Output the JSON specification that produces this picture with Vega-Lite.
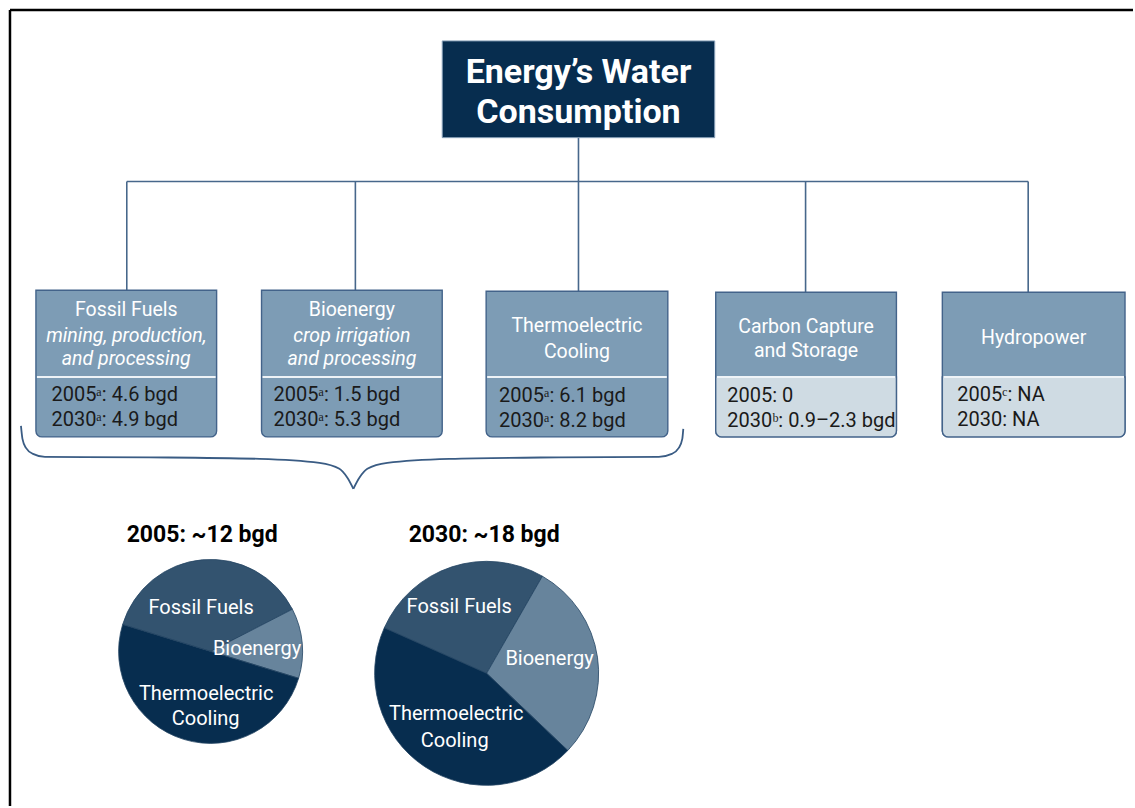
{
  "$schema": "https://vega.github.io/schema/vega-lite/v6.json",
  "width": 1135,
  "height": 808,
  "autosize": {"type": "fit", "contains": "padding"},
  "padding": 0,
  "background": "white",
  "config": {"view": {"stroke": null}, "font": "Roboto"},
  "datasets": {
    "frame": [
      {"x": 10, "y": 10, "x2": 1135, "y2": 10},
      {"x": 10, "y": 10, "x2": 10, "y2": 808}
    ],
    "connectors": [
      {"x": 579.5, "y": 138, "x2": 579.5, "y2": 182},
      {"x": 127, "y": 182, "x2": 1030, "y2": 182},
      {"x": 127, "y": 182, "x2": 127, "y2": 291},
      {"x": 356, "y": 182, "x2": 356, "y2": 291},
      {"x": 579.5, "y": 182, "x2": 579.5, "y2": 292},
      {"x": 807, "y": 182, "x2": 807, "y2": 293},
      {"x": 1030, "y": 182, "x2": 1030, "y2": 293}
    ],
    "titlebox": [{"x": 443, "y": 41, "x2": 716, "y2": 138}],
    "boxes": [
      {"name": "Fossil Fuels", "x": 36, "x2": 217, "y": 291, "y2": 438},
      {"name": "Bioenergy", "x": 262, "x2": 443, "y": 291, "y2": 438},
      {"name": "Thermoelectric Cooling", "x": 487, "x2": 669, "y": 292, "y2": 438},
      {"name": "Carbon Capture and Storage", "x": 717, "x2": 898, "y": 293, "y2": 438},
      {"name": "Hydropower", "x": 944, "x2": 1127, "y": 293, "y2": 438}
    ],
    "lowerlight": [
      {"name": "Carbon Capture and Storage", "x": 717, "x2": 898, "y": 378, "y2": 438},
      {"name": "Hydropower", "x": 944, "x2": 1127, "y": 378, "y2": 438}
    ],
    "dividers": [
      {"x": 37, "x2": 216, "y": 378, "y2": 378},
      {"x": 263, "x2": 442, "y": 378, "y2": 378},
      {"x": 488, "x2": 668, "y": 378, "y2": 378},
      {"x": 718, "x2": 897, "y": 378, "y2": 378},
      {"x": 945, "x2": 1126, "y": 378, "y2": 378}
    ],
    "brace": [
      {"side": "left", "x": 21, "y": 427},
      {"side": "left", "x": 22.5, "y": 440},
      {"side": "left", "x": 26, "y": 449},
      {"side": "left", "x": 33, "y": 455},
      {"side": "left", "x": 45, "y": 458},
      {"side": "left", "x": 150, "y": 458.5},
      {"side": "left", "x": 260, "y": 460},
      {"side": "left", "x": 320, "y": 464},
      {"side": "left", "x": 340, "y": 470},
      {"side": "left", "x": 348, "y": 479},
      {"side": "left", "x": 354, "y": 490},
      {"side": "right", "x": 354, "y": 490},
      {"side": "right", "x": 360, "y": 479},
      {"side": "right", "x": 368, "y": 470},
      {"side": "right", "x": 388, "y": 464},
      {"side": "right", "x": 450, "y": 460},
      {"side": "right", "x": 560, "y": 458.5},
      {"side": "right", "x": 660, "y": 458},
      {"side": "right", "x": 673, "y": 455},
      {"side": "right", "x": 680, "y": 449},
      {"side": "right", "x": 683.5, "y": 440},
      {"side": "right", "x": 684.5, "y": 430}
    ],
    "pies": [
      {"pie": "2005", "source": "Fossil Fuels", "order": 1, "value": 4.6, "x": 211, "y": 653},
      {"pie": "2005", "source": "Bioenergy", "order": 2, "value": 1.5, "x": 211, "y": 653},
      {"pie": "2005", "source": "Thermoelectric Cooling", "order": 3, "value": 6.1, "x": 211, "y": 653},
      {"pie": "2030", "source": "Fossil Fuels", "order": 1, "value": 4.9, "x": 487.5, "y": 675},
      {"pie": "2030", "source": "Bioenergy", "order": 2, "value": 5.3, "x": 487.5, "y": 675},
      {"pie": "2030", "source": "Thermoelectric Cooling", "order": 3, "value": 8.2, "x": 487.5, "y": 675}
    ],
    "titletext": [
      {"label": "Energy’s Water", "x": 579.5, "y": 83},
      {"label": "Consumption", "x": 579.5, "y": 123}
    ],
    "headers": [
      {"label": "Fossil Fuels", "x": 126.5, "y": 317},
      {"label": "Bioenergy", "x": 352.5, "y": 317},
      {"label": "Thermoelectric", "x": 578, "y": 332.5},
      {"label": "Cooling", "x": 578, "y": 358.5},
      {"label": "Carbon Capture", "x": 807.5, "y": 333.5},
      {"label": "and Storage", "x": 807.5, "y": 357.5},
      {"label": "Hydropower", "x": 1035.5, "y": 345}
    ],
    "subheaders": [
      {"label": "mining, production,", "x": 126.5, "y": 342.5},
      {"label": "and processing", "x": 126.5, "y": 366},
      {"label": "crop irrigation", "x": 352.5, "y": 342.5},
      {"label": "and processing", "x": 352.5, "y": 366}
    ],
    "values": [
      {"label": "2005ᵃ: 4.6 bgd", "x": 51.5, "y": 402},
      {"label": "2030ᵃ: 4.9 bgd", "x": 51.5, "y": 427},
      {"label": "2005ᵃ: 1.5 bgd", "x": 274, "y": 402},
      {"label": "2030ᵃ: 5.3 bgd", "x": 274, "y": 427},
      {"label": "2005ᵃ: 6.1 bgd", "x": 500, "y": 402.5},
      {"label": "2030ᵃ: 8.2 bgd", "x": 500, "y": 428},
      {"label": "2005: 0", "x": 728.5, "y": 402.5},
      {"label": "2030ᵇ: 0.9–2.3 bgd", "x": 728.5, "y": 428},
      {"label": "2005ᶜ: NA", "x": 959, "y": 402},
      {"label": "2030: NA", "x": 959, "y": 427.5}
    ],
    "pietitles": [
      {"label": "2005: ~12 bgd", "x": 202.5, "y": 543},
      {"label": "2030: ~18 bgd", "x": 485, "y": 543.5}
    ],
    "pielabels": [
      {"label": "Fossil Fuels", "x": 201.5, "y": 616},
      {"label": "Bioenergy", "x": 257.5, "y": 657},
      {"label": "Thermoelectric", "x": 206.5, "y": 701.5},
      {"label": "Cooling", "x": 206, "y": 727},
      {"label": "Fossil Fuels", "x": 460, "y": 614.5},
      {"label": "Bioenergy", "x": 550.5, "y": 667},
      {"label": "Thermoelectric", "x": 457, "y": 722},
      {"label": "Cooling", "x": 455.5, "y": 748.5}
    ]
  },
  "encoding": {
    "x": {"field": "x", "type": "quantitative", "axis": null, "scale": {"domain": [0, 1135], "nice": false, "zero": false}},
    "y": {"field": "y", "type": "quantitative", "axis": null, "scale": {"domain": [0, 808], "nice": false, "zero": false, "reverse": true}}
  },
  "layer": [
    {
      "data": {"name": "frame"},
      "mark": {"type": "rule", "color": "#000000", "strokeWidth": 2.5},
      "encoding": {"x2": {"field": "x2"}, "y2": {"field": "y2"}}
    },
    {
      "data": {"name": "connectors"},
      "mark": {"type": "rule", "color": "#47678b", "strokeWidth": 1.6},
      "encoding": {"x2": {"field": "x2"}, "y2": {"field": "y2"}}
    },
    {
      "data": {"name": "titlebox"},
      "mark": {"type": "rect", "color": "#072d4f", "stroke": "#8aa3bb", "strokeWidth": 1},
      "encoding": {"x2": {"field": "x2"}, "y2": {"field": "y2"}}
    },
    {
      "data": {"name": "boxes"},
      "mark": {"type": "rect", "color": "#7d9cb5", "stroke": "#43638a", "strokeWidth": 1.4, "cornerRadiusBottomLeft": 6, "cornerRadiusBottomRight": 6},
      "encoding": {"x2": {"field": "x2"}, "y2": {"field": "y2"}}
    },
    {
      "data": {"name": "lowerlight"},
      "mark": {"type": "rect", "color": "#cfdbe3", "stroke": "#43638a", "strokeWidth": 1.4, "cornerRadiusBottomLeft": 6, "cornerRadiusBottomRight": 6},
      "encoding": {"x2": {"field": "x2"}, "y2": {"field": "y2"}}
    },
    {
      "data": {"name": "dividers"},
      "mark": {"type": "rule", "color": "#eef3f7", "strokeWidth": 2},
      "encoding": {"x2": {"field": "x2"}, "y2": {"field": "y2"}}
    },
    {
      "data": {"name": "brace"},
      "mark": {"type": "line", "color": "#3a5c84", "strokeWidth": 1.8, "interpolate": "monotone"},
      "encoding": {"detail": {"field": "side"}}
    },
    {
      "data": {"name": "pies"},
      "transform": [
        {"filter": "datum.pie === '2005'"},
        {"stack": "value", "groupby": ["pie"], "sort": [{"field": "order", "order": "ascending"}], "as": ["t0", "t1"], "offset": "normalize"}
      ],
      "mark": {"type": "arc", "outerRadius": 92, "stroke": "#244563", "strokeWidth": 0.8},
      "encoding": {
        "theta": {"field": "t0", "type": "quantitative", "scale": {"domain": [0, 1], "range": [-1.274, 5.009]}},
        "theta2": {"field": "t1"},
        "color": {"field": "source", "type": "nominal", "legend": null, "scale": {"domain": ["Fossil Fuels", "Bioenergy", "Thermoelectric Cooling"], "range": ["#33536f", "#67849c", "#072d4f"]}}
      }
    },
    {
      "data": {"name": "pies"},
      "transform": [
        {"filter": "datum.pie === '2030'"},
        {"stack": "value", "groupby": ["pie"], "sort": [{"field": "order", "order": "ascending"}], "as": ["t0", "t1"], "offset": "normalize"}
      ],
      "mark": {"type": "arc", "outerRadius": 112, "stroke": "#244563", "strokeWidth": 0.8},
      "encoding": {
        "theta": {"field": "t0", "type": "quantitative", "scale": {"domain": [0, 1], "range": [-1.152, 5.131]}},
        "theta2": {"field": "t1"},
        "color": {"field": "source", "type": "nominal", "legend": null, "scale": {"domain": ["Fossil Fuels", "Bioenergy", "Thermoelectric Cooling"], "range": ["#33536f", "#67849c", "#072d4f"]}}
      }
    },
    {
      "data": {"name": "titletext"},
      "mark": {"type": "text", "font": "Roboto", "fontWeight": "bold", "fontSize": 34, "color": "#ffffff", "align": "center", "baseline": "alphabetic"},
      "encoding": {"text": {"field": "label"}}
    },
    {
      "data": {"name": "headers"},
      "mark": {"type": "text", "font": "Roboto", "fontSize": 19.5, "color": "#ffffff", "align": "center", "baseline": "alphabetic"},
      "encoding": {"text": {"field": "label"}}
    },
    {
      "data": {"name": "subheaders"},
      "mark": {"type": "text", "font": "Roboto", "fontStyle": "italic", "fontSize": 19.5, "color": "#ffffff", "align": "center", "baseline": "alphabetic"},
      "encoding": {"text": {"field": "label"}}
    },
    {
      "data": {"name": "values"},
      "mark": {"type": "text", "font": "Roboto", "fontSize": 20, "color": "#1a1a1a", "align": "left", "baseline": "alphabetic"},
      "encoding": {"text": {"field": "label"}}
    },
    {
      "data": {"name": "pietitles"},
      "mark": {"type": "text", "font": "Roboto", "fontWeight": "bold", "fontSize": 23, "color": "#000000", "align": "center", "baseline": "alphabetic"},
      "encoding": {"text": {"field": "label"}}
    },
    {
      "data": {"name": "pielabels"},
      "mark": {"type": "text", "font": "Roboto", "fontSize": 20, "color": "#ffffff", "align": "center", "baseline": "alphabetic"},
      "encoding": {"text": {"field": "label"}}
    }
  ],
  "resolve": {"scale": {"theta": "independent"}}
}
